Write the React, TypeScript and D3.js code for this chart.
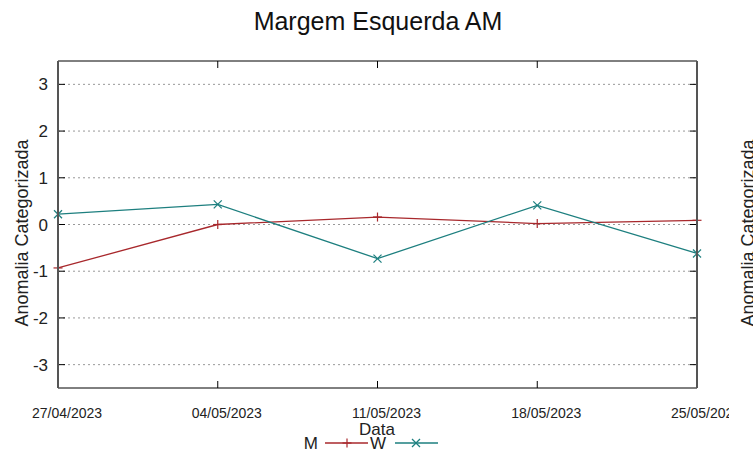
import React from "react";
import * as d3 from "d3";

const dates = ["27/04/2023", "04/05/2023", "11/05/2023", "18/05/2023", "25/05/2023"];
const seriesM = [-0.93, 0.0, 0.16, 0.02, 0.09];
const seriesW = [0.22, 0.43, -0.73, 0.41, -0.62];
const yTicks = [-3, -2, -1, 0, 1, 2, 3];
const title = "Margem Esquerda AM";
const yLabel = "Anomalia Categorizada";
const xLabel = "Data";

const W = 753, H = 458;
const L = 58, R = 697, T = 61, B = 388;
const font = "'Liberation Sans', Arial, sans-serif";
const colM = "#a8282c";
const colW = "#1d7f7f";

export default function App() {
  const x = d3.scalePoint<string>().domain(dates).range([L, R]);
  const y = d3.scaleLinear().domain([-3.5, 3.5]).range([B, T]);
  const line = d3.line<number>().x((_, i) => x(dates[i]) as number).y((d) => y(d));

  const plus = (cx: number, cy: number, c: string, k: string) => (
    <g key={k} stroke={c} strokeWidth={1.2}>
      <line x1={cx - 4.5} x2={cx + 4.5} y1={cy} y2={cy} />
      <line x1={cx} x2={cx} y1={cy - 4.5} y2={cy + 4.5} />
    </g>
  );
  const cross = (cx: number, cy: number, c: string, k: string) => (
    <g key={k} stroke={c} strokeWidth={1.2}>
      <line x1={cx - 4} x2={cx + 4} y1={cy - 4} y2={cy + 4} />
      <line x1={cx - 4} x2={cx + 4} y1={cy + 4} y2={cy - 4} />
    </g>
  );

  return (
    <svg width={W} height={H} style={{ position: "absolute", left: 0, top: 0, background: "#fff" }} fontFamily={font}>
      <defs>
        <clipPath id="xclip">
          <rect x={0} y={0} width={729} height={H} />
        </clipPath>
      </defs>
      <rect width={W} height={H} fill="#fff" />
      <text x={378} y={30} textAnchor="middle" fontSize={25} fill="#111">{title}</text>

      {yTicks.map((t) => (
        <g key={t}>
          <line x1={L} x2={R} y1={y(t)} y2={y(t)} stroke="#999" strokeWidth={1} strokeDasharray="2,3" />
          <line x1={L} x2={L + 7} y1={y(t)} y2={y(t)} stroke="#000" />
          <line x1={R - 7} x2={R} y1={y(t)} y2={y(t)} stroke="#000" />
          <text x={48} y={y(t) + 6} textAnchor="end" fontSize={17} fill="#222">{t}</text>
        </g>
      ))}
      {dates.map((d) => (
        <g key={d}>
          <line x1={x(d)} x2={x(d)} y1={B} y2={B - 7} stroke="#000" />
          <line x1={x(d)} x2={x(d)} y1={T} y2={T + 7} stroke="#000" />
          <text x={(x(d) as number) + 9} y={418} textAnchor="middle" fontSize={14} fill="#222" clipPath="url(#xclip)">{d}</text>
        </g>
      ))}

      <path d={line(seriesM) || ""} fill="none" stroke={colM} strokeWidth={1.3} />
      <path d={line(seriesW) || ""} fill="none" stroke={colW} strokeWidth={1.3} />
      {seriesM.map((v, i) => plus(x(dates[i]) as number, y(v), colM, "m" + i))}
      {seriesW.map((v, i) => cross(x(dates[i]) as number, y(v), colW, "w" + i))}

      <line x1={L} x2={R} y1={T} y2={T} stroke="#000" strokeWidth={1} />
      <line x1={L} x2={R} y1={B} y2={B} stroke="#000" strokeWidth={1} />
      <line x1={L} x2={L} y1={T} y2={B} stroke="#555" strokeWidth={2} />
      <line x1={R} x2={R} y1={T} y2={B} stroke="#555" strokeWidth={2} />

      <text transform={`translate(28,233) rotate(-90)`} textAnchor="middle" fontSize={18} fill="#222">{yLabel}</text>
      <text transform={`translate(754,233) rotate(-90)`} textAnchor="middle" fontSize={18} fill="#222">{yLabel}</text>
      <text x={377} y={435} textAnchor="middle" fontSize={17} fill="#222">{xLabel}</text>

      <text x={318} y={449} textAnchor="end" fontSize={17} fill="#222">M</text>
      <line x1={325} x2={368} y1={443} y2={443} stroke={colM} strokeWidth={1.3} />
      {plus(347, 443, colM, "lm")}
      <text x={386} y={449} textAnchor="end" fontSize={17} fill="#222">W</text>
      <line x1={395} x2={438} y1={443} y2={443} stroke={colW} strokeWidth={1.3} />
      {cross(416, 443, colW, "lw")}
    </svg>
  );
}
